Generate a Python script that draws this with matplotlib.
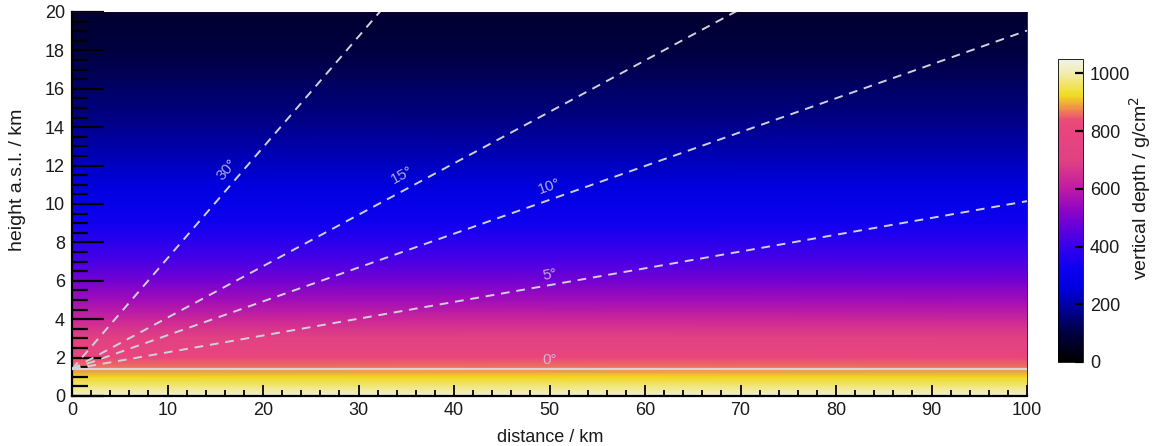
import numpy as np
import matplotlib
matplotlib.use("Agg")
import matplotlib.pyplot as plt
from matplotlib.colors import LinearSegmentedColormap, Normalize

plt.rcParams['font.family'] = ['Liberation Sans', 'DejaVu Sans']

# ---- data ----
heights_km = [0, 0.5, 1, 1.5, 2, 2.5, 3, 3.5, 4, 5, 6, 7, 8, 9, 10, 11, 12,
              13, 14, 15, 16, 17, 18, 19, 20]
depth_gcm2 = [1030, 975, 920, 865, 810, 760, 715, 670, 630, 555, 490, 430, 378,
              332, 292, 258, 228, 200, 176, 155, 136, 118, 102, 88, 75]
distance_range = [0, 100]
site_height_km = 1.4
angles_deg = [0, 5, 10, 15, 30]
angle_labels = ["0°", "5°", "10°", "15°", "30°"]
label_x_km = [50, 50, 50, 34.6, 16.2]
label_y_km = [1.9, 6.3, 10.9, 11.5, 11.8]

# colour palette sampled from the colour bar
cb_vals = [0, 100, 200, 260, 330, 400, 460, 530, 610, 700, 800, 840, 885, 925, 1000, 1050]
cb_cols = [(0, 0, 0), (0, 0, 65), (0, 0, 170), (0, 0, 225), (15, 0, 240),
           (55, 0, 235), (95, 0, 220), (145, 5, 195), (195, 30, 160),
           (225, 65, 130), (232, 68, 128), (235, 75, 118), (240, 150, 70),
           (240, 220, 30), (242, 236, 170), (242, 242, 236)]

vmin, vmax = 0, 1050
cmap = LinearSegmentedColormap.from_list(
    "depth", [((v - vmin) / (vmax - vmin), tuple(c / 255 for c in col))
              for v, col in zip(cb_vals, cb_cols)])
norm = Normalize(vmin, vmax)

W, H = 1154, 446
fig = plt.figure(figsize=(W / 100, H / 100), dpi=100)
ax = fig.add_axes([72 / W, 1 - 396 / H, (1027 - 72) / W, (396 - 12) / H])

X, Y = np.meshgrid(distance_range, heights_km)
C = np.repeat(np.array(depth_gcm2, dtype=float)[:, None], len(distance_range), axis=1)
ax.pcolormesh(X, Y, C, cmap=cmap, norm=norm, shading='gouraud', rasterized=True)

ax.set_xlim(0, 100)
ax.set_ylim(0, 20)

# elevation lines
for ang in angles_deg:
    xs = np.array(distance_range, dtype=float)
    ys = site_height_km + xs * np.tan(np.radians(ang))
    if ang == 0:
        ax.plot(xs, ys, color=(0.84, 0.84, 0.84), lw=1.6, solid_capstyle='butt', zorder=3)
    else:
        ax.plot(xs, ys, color=(0.82, 0.82, 0.86), lw=1.4, ls=(0, (4.5, 3.5)), zorder=3)

fig.canvas.draw()
for ang, lab, lx, ly in zip(angles_deg, angle_labels, label_x_km, label_y_km):
    p0 = ax.transData.transform((0, site_height_km))
    p1 = ax.transData.transform((10, site_height_km + 10 * np.tan(np.radians(ang))))
    rot = np.degrees(np.arctan2(p1[1] - p0[1], p1[0] - p0[0]))
    ax.text(lx, ly, lab, rotation=rot, rotation_mode='anchor', ha='center', va='center',
            color=(0.80, 0.78, 0.88), alpha=0.85, fontsize=11, zorder=4)

# axes styling (ROOT-like)
ax.set_xticks(np.arange(0, 101, 10))
ax.set_xticks(np.arange(0, 101, 2), minor=True)
ax.set_yticks(np.arange(0, 21, 2))
ax.set_yticks(np.arange(0, 20.01, 0.5), minor=True)
ax.tick_params(axis='both', which='both', direction='in', colors='black',
               top=False, right=False, labelsize=13)
ax.tick_params(axis='y', which='major', length=23, width=1.6, pad=5)
ax.tick_params(axis='y', which='minor', length=11.5, width=1.6)
ax.tick_params(axis='x', which='major', length=8, width=1.3, pad=4)
ax.tick_params(axis='x', which='minor', length=4.3, width=1.3)
ax.tick_params(axis='both', labelcolor=(0.1, 0.1, 0.1))
for s in ['left', 'bottom']:
    ax.spines[s].set_linewidth(1.6)
for s in ['top', 'right']:
    ax.spines[s].set_linewidth(0.6)
    ax.spines[s].set_color((0.1, 0.0, 0.15))

fig.text(550 / W, 1 - 437 / H, "distance / km", ha='center', va='center', fontsize=13,
         color=(0.1, 0.1, 0.1))
fig.text(18 / W, 1 - 180 / H, "height a.s.l. / km", ha='center', va='center',
         rotation=90, fontsize=14, color=(0.1, 0.1, 0.1))

# colour bar
cax = fig.add_axes([1058 / W, 1 - 362 / H, 25 / W, 303 / H])
cb = fig.colorbar(matplotlib.cm.ScalarMappable(norm=norm, cmap=cmap), cax=cax)
cb.set_ticks([0, 200, 400, 600, 800, 1000])
cax.tick_params(direction='in', length=6, width=1.6, labelsize=13, pad=5,
                labelcolor=(0.1, 0.1, 0.1))
cb.outline.set_linewidth(0.6)
cax.spines['right'].set_linewidth(1.6)
fig.text(1140 / W, 1 - 188 / H, "vertical depth / g/cm$^2$", ha='center', va='center',
         rotation=90, fontsize=14, color=(0.1, 0.1, 0.1))

fig.savefig("out.png", dpi=100)
